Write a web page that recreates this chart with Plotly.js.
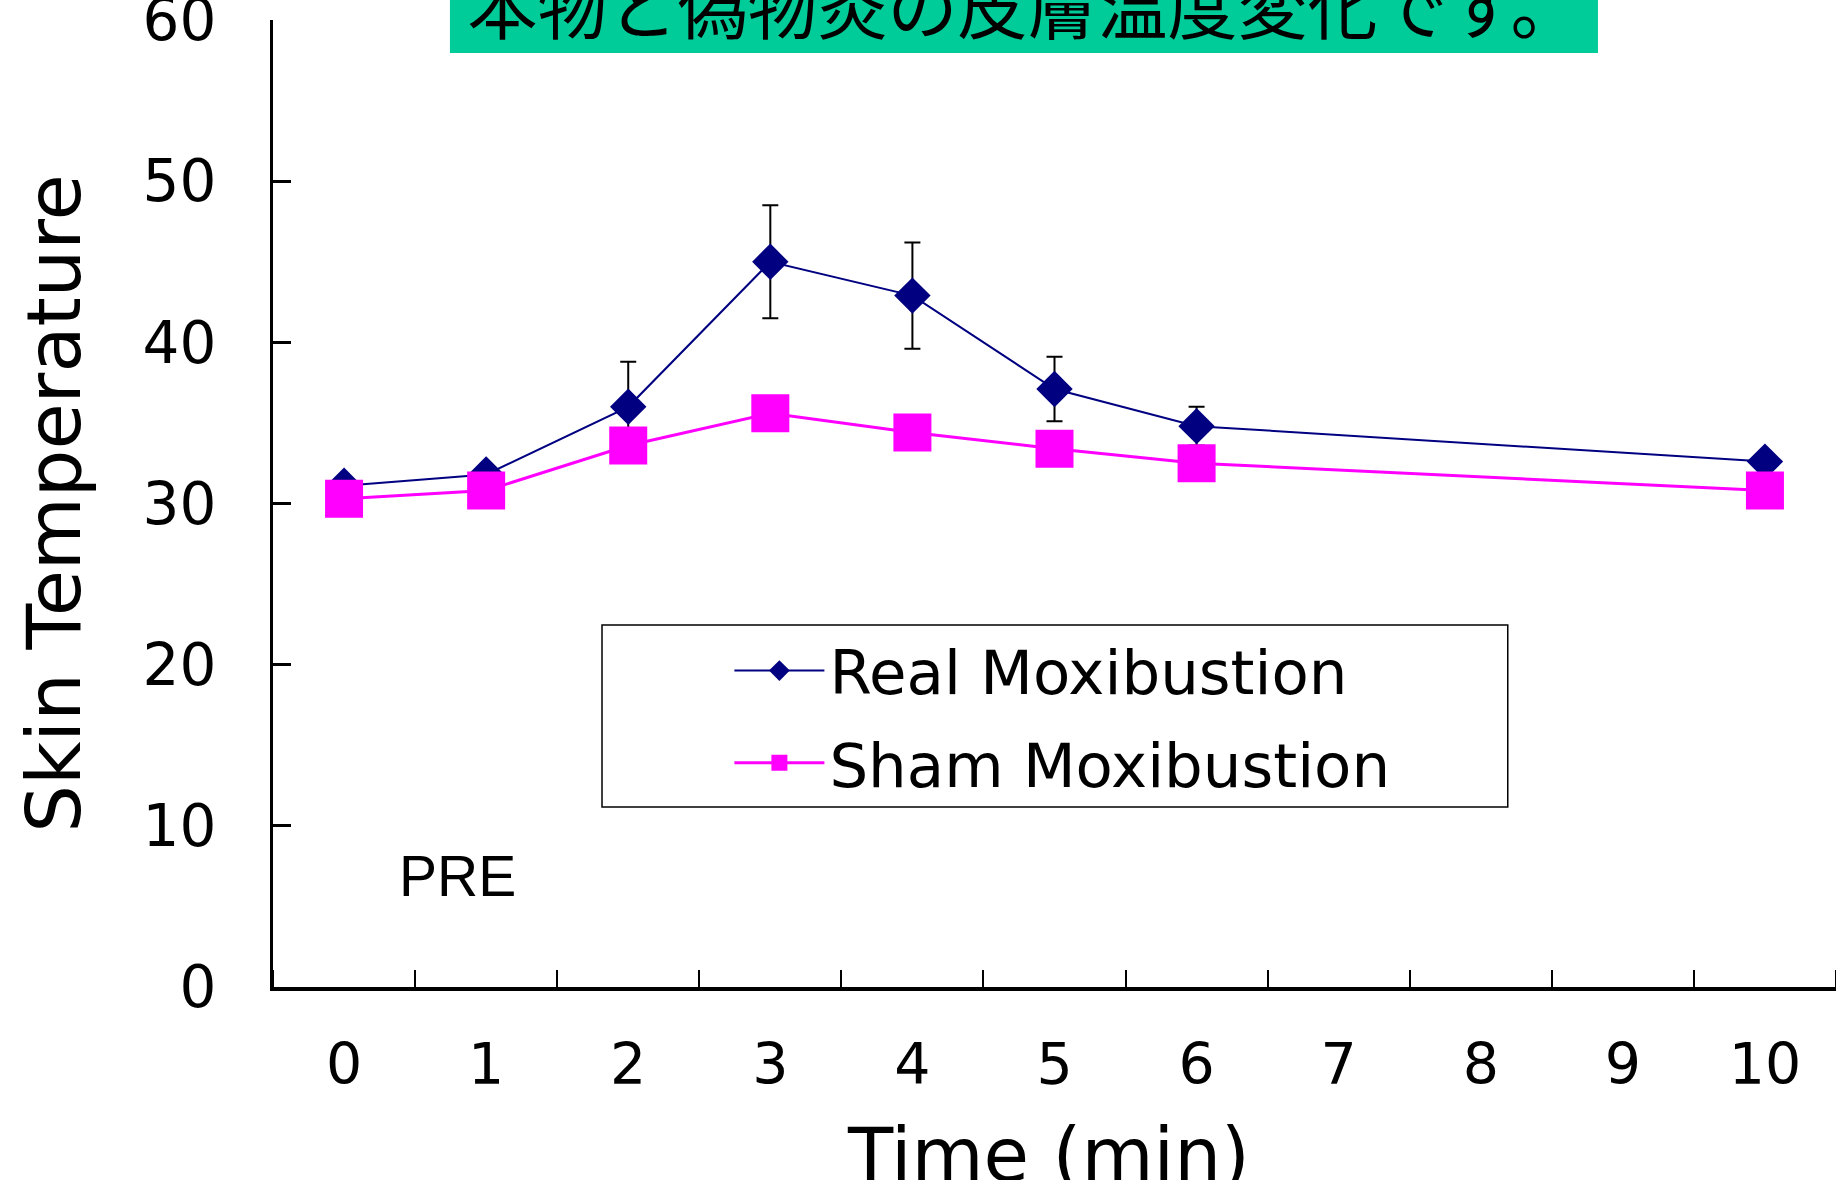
<!DOCTYPE html>
<html>
<head>
<meta charset="utf-8">
<script src="https://cdn.plot.ly/plotly-3.0.1.min.js"></script>
<style>html,body{margin:0;padding:0;background:#fff;}#chart{width:1836px;height:1180px;}</style>
</head>
<body>
<div id="chart"></div>
<script>
// ---- data ----
var timeValues = [0, 1, 2, 3, 4, 5, 6, 10];
var realMean   = [31.1, 31.8, 36.0, 45.0, 42.9, 37.1, 34.8, 32.6];
var realErr    = [0.5, 0.5, 2.8, 3.5, 3.3, 2.0, 1.2, 0.5];
var shamMean   = [30.3, 30.8, 33.6, 35.6, 34.4, 33.4, 32.5, 30.8];
var xTickVals  = [0, 1, 2, 3, 4, 5, 6, 7, 8, 9, 10];
var xTickText  = ['0', '1', '2', '3', '4', '5', '6', '7', '8', '9', '10'];
var yTickVals  = [0, 10, 20, 30, 40, 50, 60];
var seriesNames = ['Real Moxibustion', 'Sham Moxibustion'];
var titleText = '本物と偽物灸の皮膚温度変化です。';
var xTitleText = 'Time (min)';
var yTitleText = 'Skin Temperature';

var traces = [
  {
    x: timeValues, y: realMean, name: seriesNames[0], type: 'scatter', mode: 'lines+markers',
    legendgroup: 'real',
    line: {color: '#000080', width: 2},
    marker: {symbol: 'diamond', size: 28, color: '#000080'},
    error_y: {type: 'data', array: realErr, visible: true, color: '#000000', thickness: 2, width: 8}
  },
  {
    x: timeValues, y: shamMean, name: seriesNames[1], type: 'scatter', mode: 'lines+markers',
    legendgroup: 'sham',
    line: {color: '#ff00ff', width: 3},
    marker: {symbol: 'square', size: 38, color: '#ff00ff'}
  }
];

var layout = {
  width: 1836, height: 1180,
  margin: {l: 273, r: 0, t: 20, b: 193},
  paper_bgcolor: '#ffffff', plot_bgcolor: '#ffffff',
  font: {family: 'DejaVu Sans', color: '#000000'},
  title: {
    text: titleText,
    font: {family: 'Noto Sans CJK JP', size: 70, color: '#000000'},
    xref: 'paper', x: 0.4805, xanchor: 'center',
    yref: 'container', y: 0.992, yanchor: 'middle'
  },
  showlegend: true,
  legend: {
    x: 0.292, y: 0.375, xanchor: 'left', yanchor: 'top',
    bgcolor: 'rgba(0,0,0,0)', borderwidth: 0,
    font: {family: 'DejaVu Sans', size: 61, color: '#000000'},
    itemwidth: 90, traceorder: 'grouped', tracegroupgap: 10
  },
  xaxis: {
    type: 'linear', range: [-0.5, 10.5], fixedrange: true,
    tickmode: 'array', tickvals: xTickVals, ticktext: xTickText,
    ticks: '', ticklabelstandoff: 25, ticklabeloverflow: 'allow',
    tickfont: {family: 'DejaVu Sans', size: 57, color: '#000000'},
    minor: {tick0: 0.5, dtick: 1, ticks: 'inside', ticklen: 17, tickwidth: 2, tickcolor: '#000000', showgrid: false},
    showline: true, linecolor: '#000000', linewidth: 4,
    showgrid: false, zeroline: false, automargin: false
  },
  yaxis: {
    range: [0, 60], fixedrange: true,
    tickmode: 'array', tickvals: yTickVals,
    ticks: 'inside', ticklen: 18, tickwidth: 3, tickcolor: '#000000',
    ticklabelstandoff: 42, ticklabeloverflow: 'allow',
    tickfont: {family: 'DejaVu Sans', size: 58, color: '#000000'},
    showline: true, linecolor: '#000000', linewidth: 3,
    showgrid: false, zeroline: false, automargin: false,
    title: {text: yTitleText, font: {family: 'DejaVu Sans', size: 75, color: '#000000'}, standoff: 38}
  },
  shapes: [
    {type: 'rect', xref: 'paper', yref: 'paper', x0: 0.1132, x1: 0.8477, y0: 0.9659, y1: 1.03,
     fillcolor: '#00cc99', line: {width: 0}, layer: 'below'},
    {type: 'rect', xref: 'paper', yref: 'paper', x0: 0.2105, x1: 0.790, y0: 0.1861, y1: 0.3744,
     fillcolor: 'rgba(0,0,0,0)', line: {color: '#000000', width: 1.5}, layer: 'below'}
  ],
  annotations: [
    {text: 'PRE', x: 0.8, y: 6.9, xref: 'x', yref: 'y', showarrow: false,
     font: {family: 'Liberation Sans', size: 57, color: '#000000'}},
    {text: xTitleText, xref: 'paper', yref: 'paper', x: 0.496, y: -0.1737,
     xanchor: 'center', yanchor: 'middle', showarrow: false,
     font: {family: 'DejaVu Sans', size: 74, color: '#000000'}}
  ]
};

Plotly.newPlot('chart', traces, layout, {staticPlot: true, displayModeBar: false});
</script>
</body>
</html>
